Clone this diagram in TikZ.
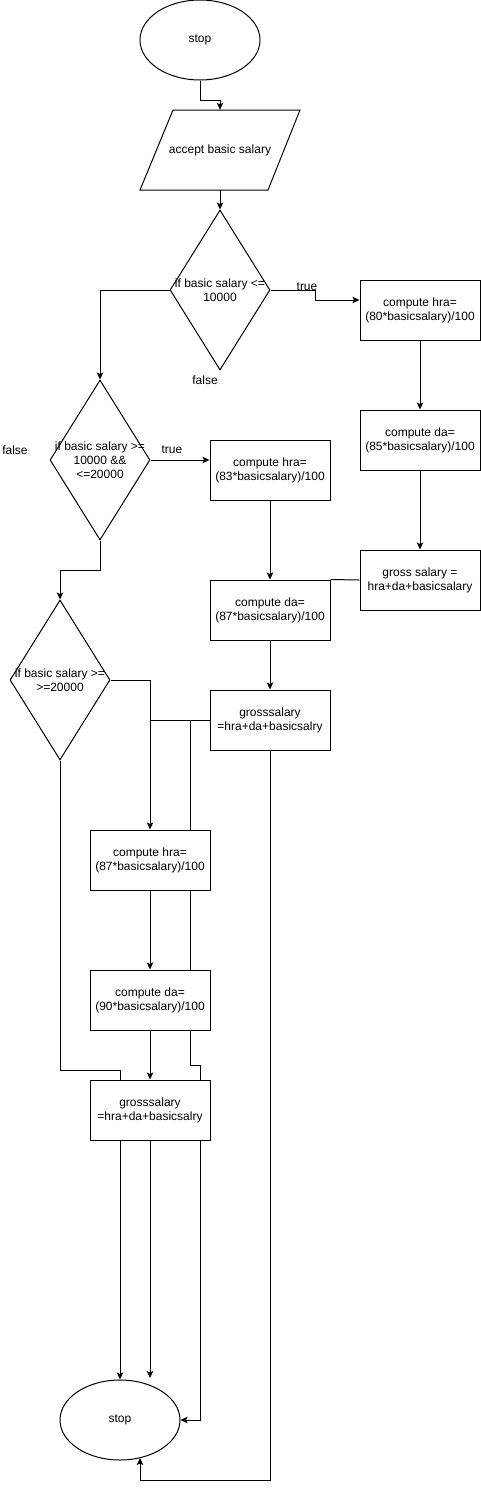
\documentclass[tikz,border=0pt]{standalone}
\usepackage{fontspec}
\setmainfont{Liberation Sans}
\usetikzlibrary{shapes.geometric,arrows.meta}
\pgfdeclarelayer{bg}
\pgfsetlayers{bg,main}
\begin{document}
\begin{tikzpicture}[x=1pt,y=-1pt,
  every node/.style={font=\fontsize{12}{14}\selectfont, text=black},
  line/.style={draw=black, line width=1pt},
  arr/.style={line, -{Stealth[length=7pt,width=6.5pt,inset=1.5pt]}},
  term/.style={ellipse, draw=black, line width=1pt, fill=white, minimum width=120pt, minimum height=80pt, inner sep=0pt},
  proc/.style={rectangle, draw=black, line width=1pt, fill=white, minimum width=120pt, minimum height=60pt, inner sep=0pt, align=center},
  dia/.style={diamond, draw=black, line width=1pt, fill=white, minimum width=100pt, minimum height=160pt, inner sep=0pt},
  txt/.style={align=center, inner sep=0pt},
  lbl/.style={inner sep=0pt}
]
\useasboundingbox (0,0) rectangle (481,1489);

% start
\node[term] (start) at (200,40) {stop};

% input parallelogram
\draw[line, fill=white] (173,110) -- (300,110) -- (268,190) -- (140,190) -- cycle;
\node[minimum width=160pt, minimum height=80pt, inner sep=0pt] (acc) at (220,150) {accept basic salary};

% decisions
\node[dia] (d1) at (220,290) {};
\node[txt] (d1t) at (d1.center) {if basic salary <=\\10000};
\node[dia] (d2) at (100,460) {};
\node[txt] (d2t) at (d2.center) {if basic salary >=\\10000 \&\&\\<=20000};
\node[dia] (d3) at (60,680) {};
\node[txt] (d3t) at (d3.center) {if basic salary >=\\>=20000};

% right column
\node[proc] (hra1) at (420,310) {compute hra=\\(80*basicsalary)/100};
\node[proc] (da1) at (420,440) {compute da=\\(85*basicsalary)/100};
\node[proc] (gr1) at (420,580) {gross salary =\\hra+da+basicsalary};

% middle column
\node[proc] (hra2) at (270,470) {compute hra=\\(83*basicsalary)/100};
\node[proc] (da2) at (270,610) {compute da=\\(87*basicsalary)/100};
\node[proc] (gr2) at (270,720) {grosssalary\\=hra+da+basicsalry};

% left column
\node[proc] (hra3) at (150,860) {compute hra=\\(87*basicsalary)/100};
\node[proc] (da3) at (150,1000) {compute da=\\(90*basicsalary)/100};
\node[proc] (gr3) at (150,1110) {grosssalary\\=hra+da+basicsalry};

% end
\node[term] (stop) at (120,1420) {stop};

% labels
\node[lbl] (ltrue1) at (307,287) {true};
\node[lbl] (lfalse1) at (205,380) {false};
\node[lbl] (ltrue2) at (172,450) {true};
\node[lbl] (lfalse2) at (15,450) {false};

% coordinates
\coordinate (c1) at (315,290);
\coordinate (c2) at (315,300);
\coordinate (c3) at (120,1070);
\coordinate (c4) at (120,1080);
\coordinate (c5) at (190,720);
\coordinate (c6) at (190,1065);
\coordinate (c7) at (200,1065);
\coordinate (c8) at (200,1420);
\coordinate (c9) at (270,1480);
\coordinate (c10) at (140,1480);
\coordinate (c11) at (140,1458);
\coordinate (c12) at (150,1378);

% connectors
\draw[arr] (start.south) -- ++(0,20) -| (acc.north);
\draw[arr] (acc.south) -- (d1.north);
\draw[arr] (d1.west) -| (d2.north);
\draw[arr] (d1.east) -- (c1) -- (c2) -- ([yshift=10pt]hra1.west);
\draw[arr] (hra1.south) -- (da1.north);
\draw[arr] (da1.south) -- (gr1.north);
\draw[line] (gr1.west) -- (da2.north east);

\draw[arr] (d2.east) -- ([yshift=10pt]hra2.west);
\draw[arr] (d2.south) -- ++(0,30) -| (d3.north);
\draw[arr] (hra2.south) -- (da2.north);
\draw[arr] (da2.south) -- (gr2.north);

\draw[arr] (d3.east) -| (hra3.north);
\draw[line] (gr2.west) -- (gr2.west -| hra3.north);
\draw[arr] (hra3.south) -- (da3.north);
\draw[arr] (da3.south) -- (gr3.north);
\draw[line] (d3.south) |- (c3) -- (c4);

\begin{pgfonlayer}{bg}
\draw[arr] (gr2.west) -- (c5) -- (c6) -- (c7) -- (c8) -- (stop.east);
\end{pgfonlayer}

\draw[arr] (c3 |- gr3.south) -- (stop.north);
\draw[arr] (gr3.south) -- (c12);
\draw[arr] (gr2.south) -- (c9) -- (c10) -- (c11);
\end{tikzpicture}
\end{document}
